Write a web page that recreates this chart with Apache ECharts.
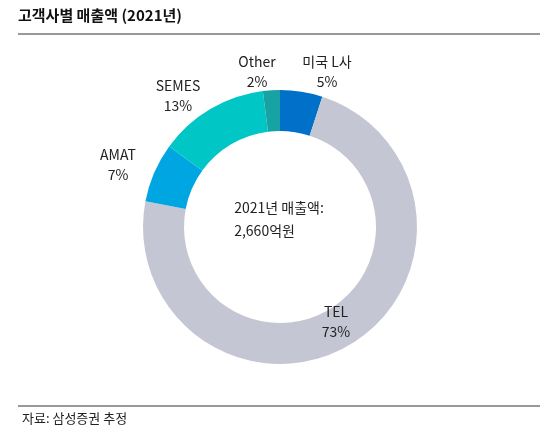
<!DOCTYPE html>
<html>
<head>
<meta charset="utf-8">
<script src="https://cdn.jsdelivr.net/npm/echarts@6/dist/echarts.min.js"></script>
<style>html,body{margin:0;padding:0;background:#fff;}#main{width:558px;height:446px;}</style>
</head>
<body>
<div id="main"></div>
<script>
// 고객사별 매출액 데이터
var customers = ['미국 L사', 'TEL', 'AMAT', 'SEMES', 'Other'];
var shares = [5, 73, 7, 13, 2];
var colors = ['#0070C8', '#C4C6D3', '#00A6E2', '#00C6C6', '#17A3A3'];
// 라벨 중심 위치
var labelPos = [[327, 72], [336, 322], [118, 165], [178, 96], [257, 72]];

var font = '"Noto Sans CJK KR", "Noto Sans", sans-serif';
var chart = echarts.init(document.getElementById('main'));

var items = [];
for (var i = 0; i < customers.length; i++) {
    items.push({ name: customers[i], value: shares[i], itemStyle: { color: colors[i] } });
}

chart.setOption({
    animation: false,
    graphic: [
        { type: 'text', left: 18, top: 8, style: { text: '고객사별 매출액 (2021년)', font: 'bold 15px ' + font, fill: '#111' } },
        { type: 'line', shape: { x1: 18, y1: 34, x2: 540, y2: 34 }, style: { stroke: '#333', lineWidth: 1 } },
        { type: 'line', shape: { x1: 18, y1: 406, x2: 540, y2: 406 }, style: { stroke: '#333', lineWidth: 1 } },
        { type: 'text', left: 22, top: 412, style: { text: '자료: 삼성증권 추정', font: '13px ' + font, fill: '#222' } },
        { type: 'text', left: 'center', top: 196, style: { text: '2021년 매출액:\n2,660억원', font: '14px ' + font, fill: '#222', align: 'center', lineHeight: 23 } }
    ],
    series: [{
        type: 'pie',
        center: [280, 227],
        radius: [96, 137],
        startAngle: 90,
        clockwise: true,
        data: items,
        label: {
            show: true,
            position: 'outside',
            formatter: '{b}\n{c}%',
            fontFamily: font,
            fontSize: 14,
            color: '#222',
            lineHeight: 20,
            align: 'center',
            verticalAlign: 'middle'
        },
        labelLine: { show: false },
        labelLayout: function (p) {
            var pos = labelPos[p.dataIndex];
            return { x: pos[0], y: pos[1], align: 'center', verticalAlign: 'middle' };
        }
    }]
});
</script>
</body>
</html>
